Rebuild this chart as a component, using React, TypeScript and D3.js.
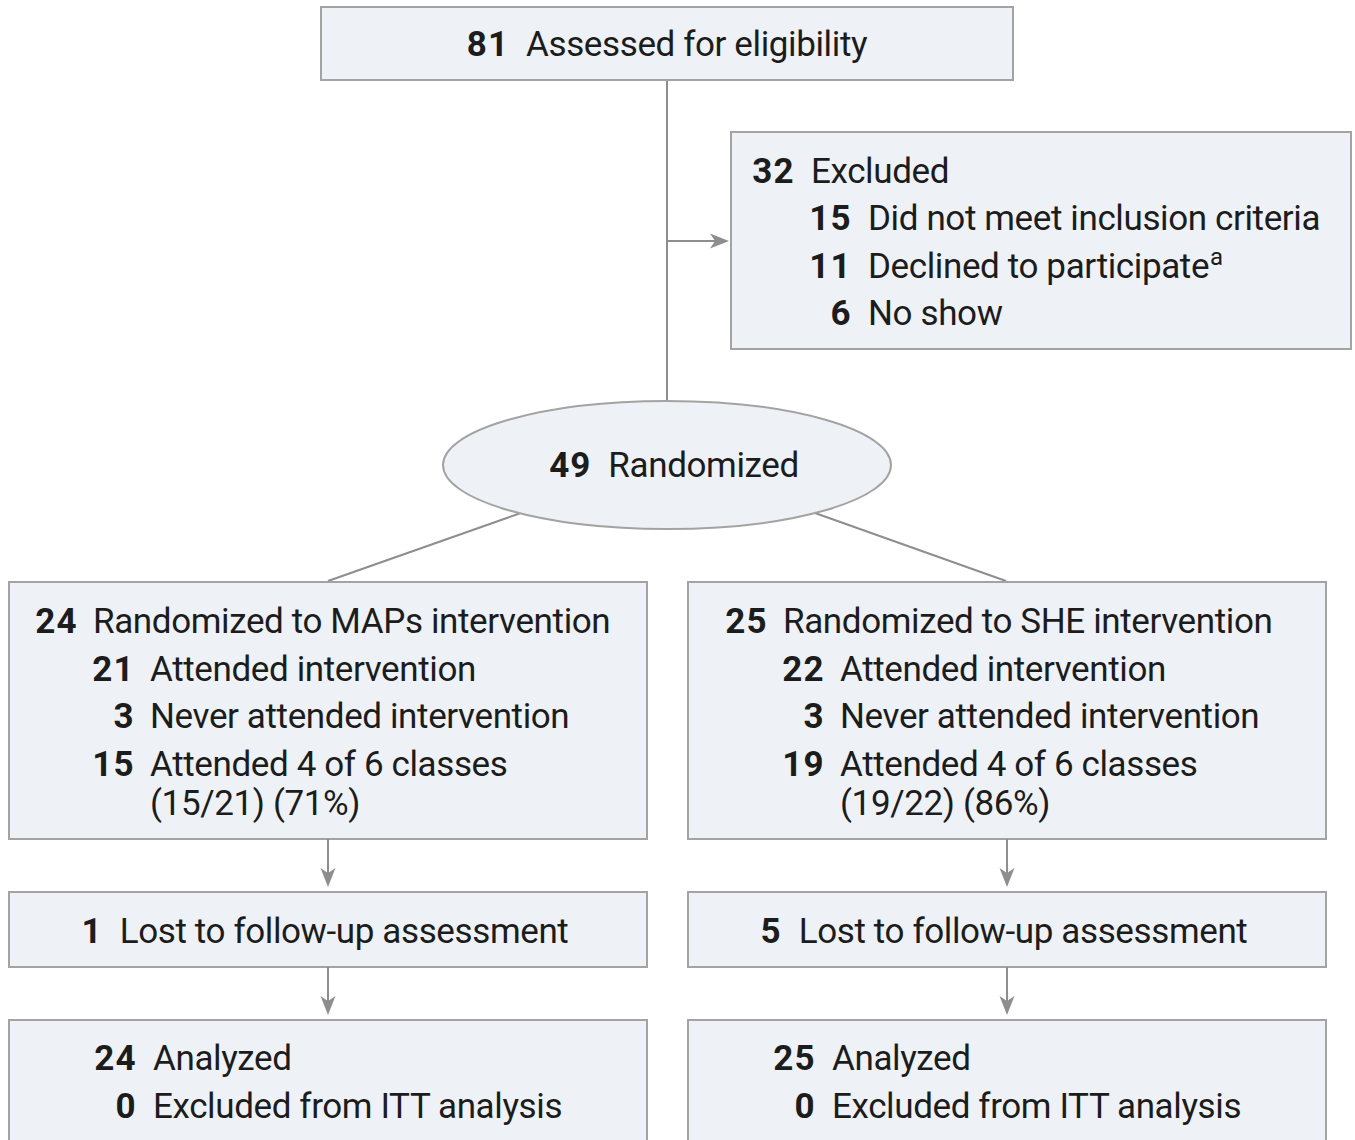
import React from "react";
import * as d3 from "d3";

// ---- data ----
const assessedCount = 81;
const assessedLabel = "Assessed for eligibility";
const excludedCounts = [32, 15, 11, 6];
const excludedLabels = ["Excluded", "Did not meet inclusion criteria", "Declined to participate", "No show"];
const excludedLevels = [0, 1, 1, 1];
const randomizedCount = 49;
const randomizedLabel = "Randomized";
const armNames = ["MAPs", "SHE"];
const armRandomized = [24, 25];
const armAttended = [21, 22];
const armNever = [3, 3];
const armAttended4 = [15, 19];
const armLost = [1, 5];
const armAnalyzed = [24, 25];
const armExcludedITT = [0, 0];

// ---- style ----
const FONT = "Roboto, 'Noto Sans', sans-serif";
const FS = 35;
const LS = -0.38;
const NLS = 1;
const FILL = "#eef2f6";
const STROKE = "#a3a3a3";
const LINE = "#8e8e8e";
const TEXT = "#1c1c1c";

type Row = { n: number | string; label: string; level: number; sup?: string; cont?: boolean };

function RowText({ row, numRight, labelX, y }: { row: Row; numRight: number; labelX: number; y: number }) {
  const indent = row.level * 57;
  return (
    <g fontFamily={FONT} fontSize={FS} fill={TEXT}>
      {!row.cont && (
        <text x={numRight + indent + NLS + 0.5} y={y} textAnchor="end" fontWeight="bold" letterSpacing={NLS}>
          {row.n}
        </text>
      )}
      <text x={labelX + indent} y={y} letterSpacing={LS}>
        {row.label}
        {row.sup && (
          <tspan fontSize={24} dy={-13} dx={1}>
            {row.sup}
          </tspan>
        )}
      </text>
    </g>
  );
}

function Box({ x, y, w, h }: { x: number; y: number; w: number; h: number }) {
  return <rect x={x} y={y} width={w} height={h} fill={FILL} stroke={STROKE} strokeWidth={2} />;
}

function Arrow({ x1, y1, x2, y2 }: { x1: number; y1: number; x2: number; y2: number }) {
  const ang = Math.atan2(y2 - y1, x2 - x1);
  const L = 19, W = 7.5, notch = 5;
  const bx = x2 - L * Math.cos(ang), by = y2 - L * Math.sin(ang);
  const nx = x2 - (L - notch) * Math.cos(ang), ny = y2 - (L - notch) * Math.sin(ang);
  const px = -Math.sin(ang), py = Math.cos(ang);
  const head = d3.path();
  head.moveTo(x2, y2);
  head.lineTo(bx + px * W, by + py * W);
  head.lineTo(nx, ny);
  head.lineTo(bx - px * W, by - py * W);
  head.closePath();
  return (
    <g>
      <line x1={x1} y1={y1} x2={nx} y2={ny} stroke={LINE} strokeWidth={2} />
      <path d={head.toString()} fill={LINE} />
    </g>
  );
}

function PairText({ x, y, n, label, gap }: { x: number; y: number; n: number; label: string; gap: number }) {
  return (
    <text x={x} y={y} textAnchor="middle" fontFamily={FONT} fontSize={FS} fill={TEXT}>
      <tspan fontWeight="bold" letterSpacing={NLS}>{n}</tspan>
      <tspan dx={gap} letterSpacing={LS}>{label}</tspan>
    </text>
  );
}

export default function App() {
  const W = 1355, H = 1140;
  const cx = 667;
  const rowGap = 47.5;

  const arm = d3.scaleOrdinal<string, number>().domain(armNames).range([9, 688]);
  const armW = 638;
  const armTextShift = [0, 690];
  const armCenter = (i: number) => arm(armNames[i]) + armW / 2;

  const excludedRows: Row[] = excludedCounts.map((n, i) => ({
    n,
    label: excludedLabels[i],
    level: excludedLevels[i],
    sup: i === 2 ? "a" : undefined,
  }));

  const ell = { cx, cy: 465, rx: 224, ry: 64 };
  const ellPoint = (x: number) => {
    const dx = x - ell.cx;
    return ell.cy + ell.ry * Math.sqrt(1 - (dx / ell.rx) ** 2);
  };

  return (
    <svg width={W} height={H} style={{ position: "absolute", left: 0, top: 0, background: "#fff" }}>
      <rect x={0} y={0} width={W} height={H} fill="#fff" />

      <line x1={cx} y1={80} x2={cx} y2={ell.cy - ell.ry} stroke={LINE} strokeWidth={2} />
      <Arrow x1={cx} y1={241} x2={729} y2={241} />

      <Box x={321} y={7} w={692} h={73} />
      <PairText x={cx} y={56} n={assessedCount} label={assessedLabel} gap={17} />

      <Box x={731} y={132} w={620} h={217} />
      {excludedRows.map((r, i) => (
        <RowText key={i} row={r} numRight={793} labelX={811} y={182.5 + i * rowGap} />
      ))}

      {armNames.map((a, i) => {
        const sx = i === 0 ? 520 : 815;
        return (
          <line key={a} x1={sx} y1={ellPoint(sx)} x2={armCenter(i) + (i === 0 ? 0 : -1)} y2={581}
            stroke={LINE} strokeWidth={2} />
        );
      })}

      <ellipse cx={ell.cx} cy={ell.cy} rx={ell.rx} ry={ell.ry} fill={FILL} stroke={STROKE} strokeWidth={2} />
      <PairText x={674} y={477} n={randomizedCount} label={randomizedLabel} gap={17} />

      {armNames.map((a, i) => {
        const x0 = arm(a);
        const ac = armCenter(i);
        const shift = armTextShift[i];
        const rows: Row[] = [
          { n: armRandomized[i], label: `Randomized to ${a} intervention`, level: 0 },
          { n: armAttended[i], label: "Attended intervention", level: 1 },
          { n: armNever[i], label: "Never attended intervention", level: 1 },
          { n: armAttended4[i], label: "Attended 4 of 6 classes", level: 1 },
          {
            n: "",
            label: `(${armAttended4[i]}/${armAttended[i]}) (${Math.round((armAttended4[i] / armAttended[i]) * 100)}%)`,
            level: 1,
            cont: true,
          },
        ];
        const rowY = [633, 680.5, 728, 775.5, 815];
        return (
          <g key={a}>
            <Box x={x0} y={582} w={armW} h={257} />
            {rows.map((r, j) => (
              <RowText key={j} row={r} numRight={76 + shift} labelX={93 + shift} y={rowY[j]} />
            ))}

            <Arrow x1={ac} y1={839} x2={ac} y2={887} />
            <Box x={x0} y={892} w={armW} h={75} />
            <PairText x={ac - 3} y={943} n={armLost[i]} label="Lost to follow-up assessment" gap={17} />

            <Arrow x1={ac} y1={967} x2={ac} y2={1015} />
            <Box x={x0} y={1020} w={armW} h={140} />
            <RowText row={{ n: armAnalyzed[i], label: "Analyzed", level: 0 }} numRight={135 + x0 - 9} labelX={153 + x0 - 9} y={1070} />
            <RowText row={{ n: armExcludedITT[i], label: "Excluded from ITT analysis", level: 0 }} numRight={135 + x0 - 9} labelX={153 + x0 - 9} y={1118} />
          </g>
        );
      })}
    </svg>
  );
}
